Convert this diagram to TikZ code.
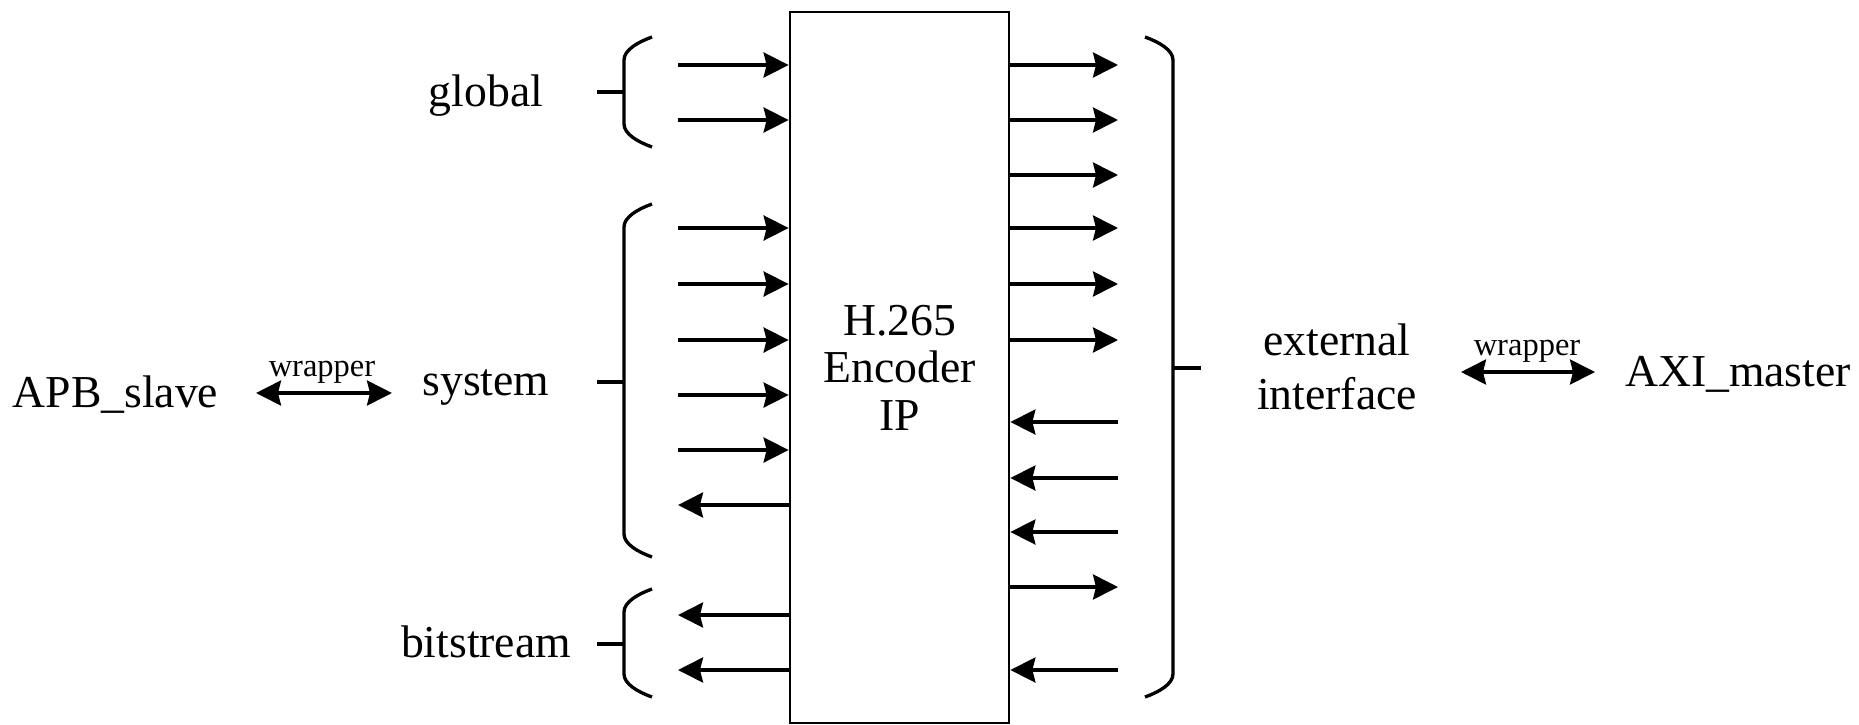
\documentclass[tikz,border=0pt]{standalone}
\usepackage{fontspec}
\setmainfont{Liberation Serif}
\usetikzlibrary{arrows.meta}

\tikzset{
  tip/.tip={Stealth[length=0.5cm, width=0.5cm, inset=0.06cm]},
  pin/.style={line width=1.9pt, -tip},
  wrap/.style={line width=1.9pt, tip-tip},
  brace/.style={line width=1.9pt},
  lbl/.style={font=\fontsize{26}{27}\selectfont, text height=0.68em, text depth=0.22em, inner sep=0pt},
  small/.style={font=\fontsize{18.5}{20}\selectfont, inner sep=0pt}
}

\begin{document}
\begin{tikzpicture}[x=0.02cm, y=-0.02cm, align=center]
      \useasboundingbox (0,0) rectangle (1859,724);
      \node[draw=black, line width=1.6pt, minimum width=4.38cm, minimum height=14.22cm, inner sep=0pt,
            font=\fontsize{26}{27}\selectfont] (IP) at (899.5,367.5) {H.265\\Encoder\\IP};
      %
      \node[lbl] (GL) at (486,102) {global};
      \node[lbl] (SY) at (486,391.5) {system};
      \node[lbl] (BS) at (486,653) {bitstream};
      \node[lbl] (APB) at (115.5,403) {APB\_slave};
      \node[font=\fontsize{26}{31}\selectfont, inner sep=0pt] (EXT) at (1337,367) {external\\interface};
      \node[lbl] (AXI) at (1738,382) {AXI\_master};
      %
      \coordinate (L1) at (678,65);
      \coordinate (L2) at (678,120);
      \coordinate (L3) at (678,228);
      \coordinate (L4) at (678,284);
      \coordinate (L5) at (678,340);
      \coordinate (L6) at (678,395);
      \coordinate (L7) at (678,450);
      \coordinate (L8) at (678,505);
      \coordinate (L9) at (678,615);
      \coordinate (L10) at (678,670);
      \draw[pin] (L1) -- (L1 -| IP.west);
      \draw[pin] (L2) -- (L2 -| IP.west);
      \draw[pin] (L3) -- (L3 -| IP.west);
      \draw[pin] (L4) -- (L4 -| IP.west);
      \draw[pin] (L5) -- (L5 -| IP.west);
      \draw[pin] (L6) -- (L6 -| IP.west);
      \draw[pin] (L7) -- (L7 -| IP.west);
      \draw[pin] (L8 -| IP.west) -- (L8);
      \draw[pin] (L9 -| IP.west) -- (L9);
      \draw[pin] (L10 -| IP.west) -- (L10);
      %
      \coordinate (R1) at (1118,65);
      \coordinate (R2) at (1118,120);
      \coordinate (R3) at (1118,175);
      \coordinate (R4) at (1118,228);
      \coordinate (R5) at (1118,284);
      \coordinate (R6) at (1118,340);
      \coordinate (R7) at (1118,422);
      \coordinate (R8) at (1118,478);
      \coordinate (R9) at (1118,532);
      \coordinate (R10) at (1118,587);
      \coordinate (R11) at (1118,670);
      \draw[pin] (R1 -| IP.east) -- (R1);
      \draw[pin] (R2 -| IP.east) -- (R2);
      \draw[pin] (R3 -| IP.east) -- (R3);
      \draw[pin] (R4 -| IP.east) -- (R4);
      \draw[pin] (R5 -| IP.east) -- (R5);
      \draw[pin] (R6 -| IP.east) -- (R6);
      \draw[pin] (R7) -- (R7 -| IP.east);
      \draw[pin] (R8) -- (R8 -| IP.east);
      \draw[pin] (R9) -- (R9 -| IP.east);
      \draw[pin] (R10 -| IP.east) -- (R10);
      \draw[pin] (R11) -- (R11 -| IP.east);
      %
      % braces round each group of pins
      \draw[brace] (652,37) .. controls (638,42) and (624,50) .. (624,60) -- (624,124) .. controls (624,134) and (638,142) .. (652,147);
      \draw[brace] (597,92) -- (624,92);
      \draw[brace] (652,204) .. controls (638,209) and (624,217) .. (624,227) -- (624,534) .. controls (624,544) and (638,552) .. (652,557);
      \draw[brace] (597,382) -- (624,382);
      \draw[brace] (652,589) .. controls (638,594) and (624,602) .. (624,612) -- (624,674) .. controls (624,684) and (638,692) .. (652,697);
      \draw[brace] (597,644) -- (624,644);
      \draw[brace] (1145,37) .. controls (1159,42) and (1173,50) .. (1173,60) -- (1173,674) .. controls (1173,684) and (1159,692) .. (1145,697);
      \draw[brace] (1173,368) -- (1201,368);
      %
      \coordinate (W1) at (256,393);
      \coordinate (W2) at (392,393);
      \draw[wrap] (W1) -- (W2);
      \node[small] (WL) at (322,372) {wrapper};
      \coordinate (W3) at (1461,372);
      \coordinate (W4) at (1595,372);
      \draw[wrap] (W3) -- (W4);
      \node[small] (WR) at (1527,351) {wrapper};
    \end{tikzpicture}
\end{document}
